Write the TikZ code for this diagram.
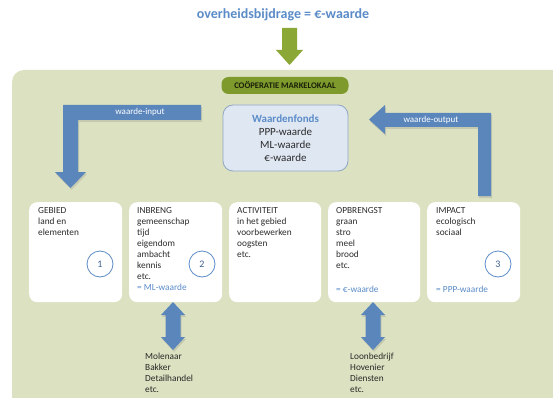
\documentclass[tikz,border=0pt]{standalone}
\usepackage{fontspec}
\setmainfont{Carlito}
\usetikzlibrary{shadows}
\definecolor{panel}{HTML}{DCE2C1}
\definecolor{arrblue}{HTML}{5A86BC}
\definecolor{txtblue}{HTML}{5B8CC8}
\definecolor{olive}{HTML}{7E9A2C}
\definecolor{garrow}{HTML}{8BA735}
\definecolor{fondsfill}{HTML}{DFE7F3}
\definecolor{fondsline}{HTML}{8FA6C4}
\definecolor{darktxt}{HTML}{2B2B2B}
\definecolor{circtxt}{HTML}{3D5F8F}
\tikzset{
  stagebox/.style={fill=white, rounded corners=8pt, minimum width=93pt, minimum height=100pt, anchor=north west, inner sep=0pt},
  boxtxt/.style={anchor=north west, inner sep=0pt, align=left, text=darktxt, font=\fontsize{9.3}{11}\selectfont},
  valtxt/.style={anchor=west, inner sep=0pt, text=txtblue, font=\fontsize{9.3}{11}\selectfont},
  circ/.style={circle, draw=txtblue, line width=0.8pt, minimum size=26pt, inner sep=0pt, text=circtxt, font=\fontsize{10}{12}\selectfont},
  blockarrow/.style={fill=arrblue, drop shadow={opacity=0.25, shadow xshift=1pt, shadow yshift=-2pt}},
  arrlabel/.style={text=white, inner sep=0pt, font=\fontsize{9}{11}\selectfont},
  belowtxt/.style={anchor=north west, inner sep=0pt, align=left, text=darktxt!90!black, font=\fontsize{9.3}{11}\selectfont}
}
\begin{document}
\begin{tikzpicture}[x=1pt,y=-1pt]
\useasboundingbox (0,0) rectangle (553,398);
\clip (0,0) rectangle (553,398);
\fill[white] (0,0) rectangle (553,398);
% panel
\fill[panel, rounded corners=12pt] (12,70) rectangle (580,430);

% title and green arrow
\node[text=txtblue, font=\fontsize{14}{16}\selectfont\bfseries, inner sep=0pt] (title) at (283,15) {overheidsbijdrage = €-waarde};
\fill[garrow] (282,28) -- (297,28) -- (297,50) -- (303,50) -- (289.5,65) -- (276,50) -- (282,50) -- cycle;

% cooperative label
\node[fill=olive, rounded corners=7pt, minimum width=127pt, minimum height=17pt, inner sep=0pt, text=black!80!olive, font=\fontsize{8.6}{10}\selectfont\bfseries] (coop) at (285,85.5) {COÖPERATIE MARKELOKAAL};

% waardenfonds
\node[fill=fondsfill, draw=fondsline, line width=0.8pt, rounded corners=10pt, minimum width=125pt, minimum height=66pt, inner sep=0pt, align=center, text=darktxt, font=\fontsize{11}{13}\selectfont] (fonds) at (285.5,138)
  {{\color{txtblue}\bfseries Waardenfonds}\\PPP-waarde\\ML-waarde\\€-waarde};

% input arrow
\fill[blockarrow] (201,105) -- (63,105) -- (63,172) -- (55,172) -- (70.5,188) -- (86,172) -- (78,172) -- (78,120) -- (201,120) -- cycle;
\node[arrlabel] (inlab) at (140,112.5) {waarde-input};

% output arrow
\fill[blockarrow] (491,196) -- (491,113) -- (385,113) -- (385,105) -- (369,119.5) -- (385,134) -- (385,127) -- (478,127) -- (478,196) -- cycle;
\node[arrlabel] (outlab) at (431,120) {waarde-output};

% stage boxes
\node[stagebox] (b1) at (29,202) {};
\node[stagebox] (b2) at (129,202) {};
\node[stagebox, minimum width=92pt] (b3) at (229,202) {};
\node[stagebox, minimum width=92pt] (b4) at (328,202) {};
\node[stagebox] (b5) at (427,202) {};

\node[boxtxt] (t1) at (38,207.5) {GEBIED\\land en\\elementen};
\node[boxtxt] (t2) at (137,207.5) {INBRENG\\gemeenschap\\tijd\\eigendom\\ambacht\\kennis\\etc.\\{\color{txtblue}= ML-waarde}};
\node[boxtxt] (t3) at (237,207.5) {ACTIVITEIT\\in het gebied\\voorbewerken\\oogsten\\etc.};
\node[boxtxt] (t4) at (336,207.5) {OPBRENGST\\graan\\stro\\meel\\brood\\etc.};
\node[valtxt] (v4) at (336,289) {= €-waarde};
\node[boxtxt] (t5) at (436,207.5) {IMPACT\\ecologisch\\sociaal};
\node[valtxt] (v5) at (436,289) {= PPP-waarde};

\node[circ] (c1) at (100,264) {1};
\node[circ] (c2) at (202,264) {2};
\node[circ] (c3) at (498,264) {3};

% double arrows
\fill[blockarrow] (173,302) -- (185,315) -- (180.5,315) -- (180.5,337) -- (185,337) -- (173,350) -- (161,337) -- (165.5,337) -- (165.5,315) -- (161,315) -- cycle;
\fill[blockarrow] (373,302) -- (385,315) -- (380.5,315) -- (380.5,337) -- (385,337) -- (373,350) -- (361,337) -- (365.5,337) -- (365.5,315) -- (361,315) -- cycle;

\node[belowtxt] (m1) at (145,352.5) {Molenaar\\Bakker\\Detailhandel\\etc.};
\node[belowtxt] (m2) at (350,352.5) {Loonbedrijf\\Hovenier\\Diensten\\etc.};
\end{tikzpicture}
\end{document}
